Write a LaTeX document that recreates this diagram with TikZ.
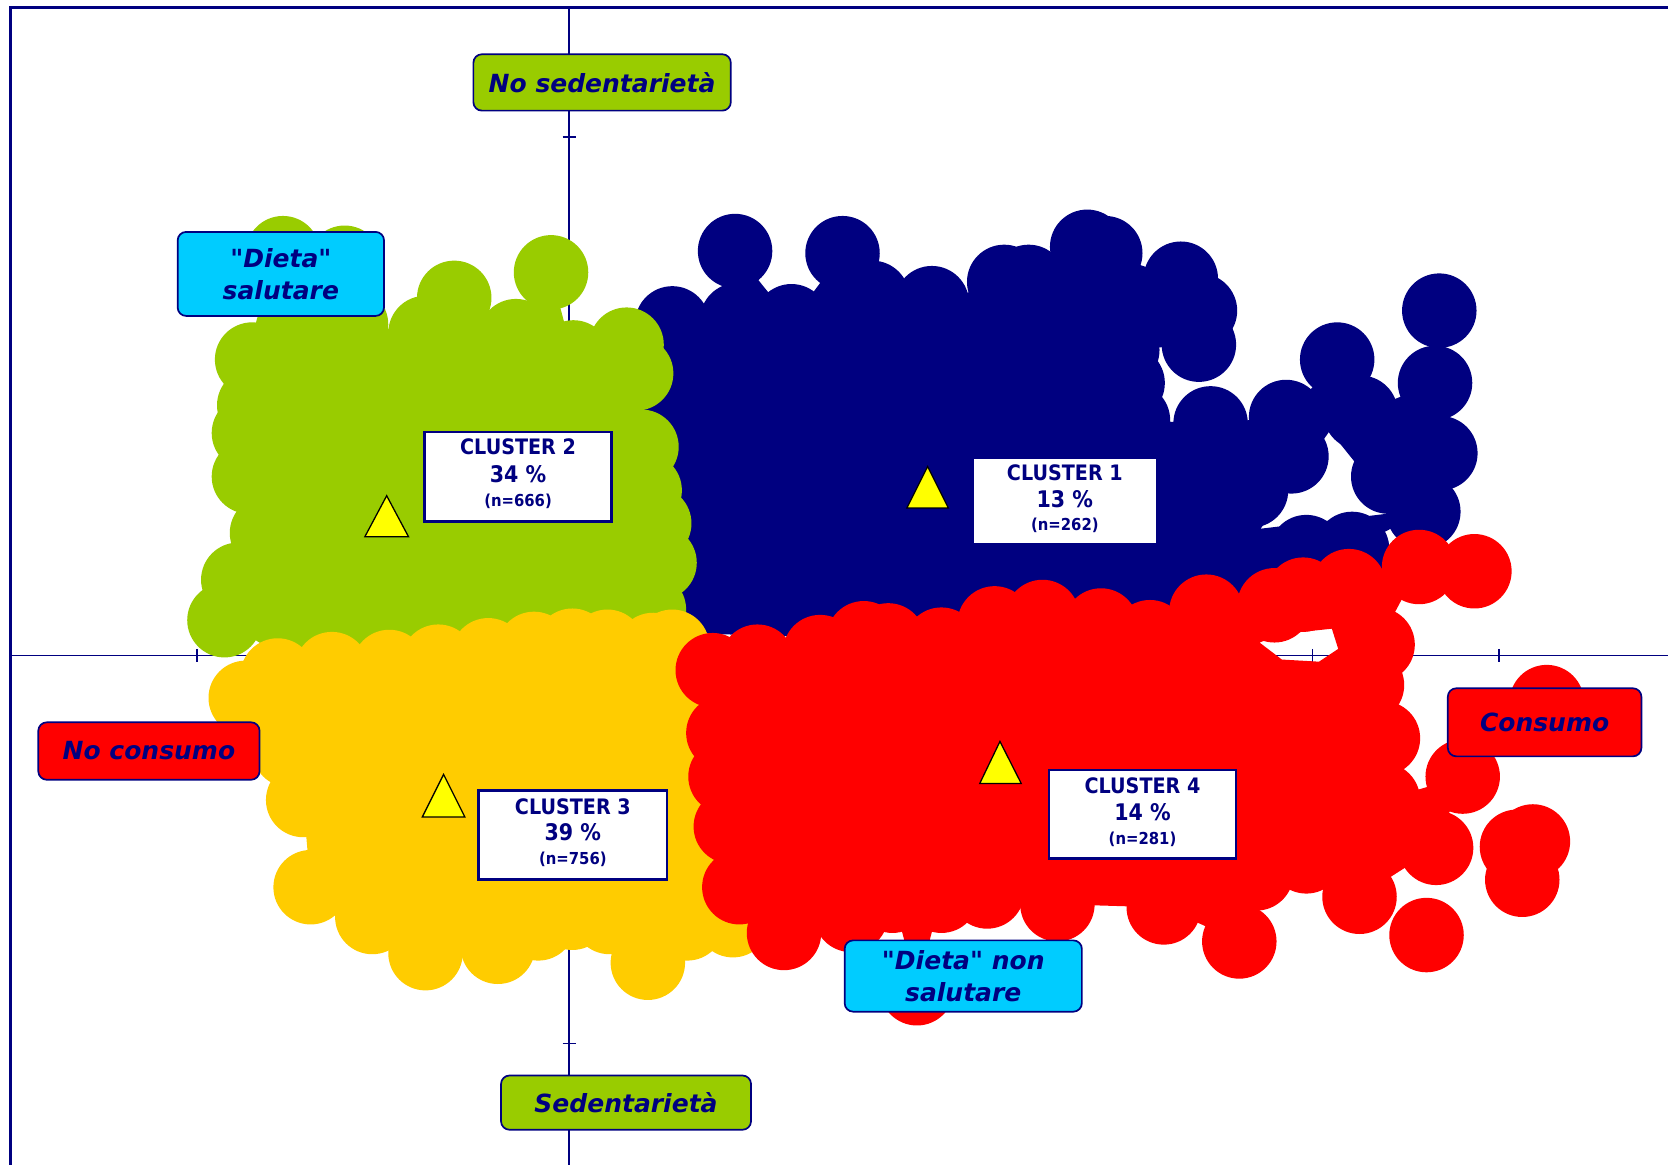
\documentclass[tikz,border=0pt]{standalone}
\usepackage{fontspec}
\setmainfont{DejaVu Sans}[Ligatures=TeXOff]
\newfontfamily\cfont{DejaVu Sans}[FakeStretch=0.9]
\definecolor{navyC}{RGB}{0,0,128}
\definecolor{greenC}{RGB}{153,204,0}
\definecolor{goldC}{RGB}{255,204,0}
\definecolor{redC}{RGB}{255,0,0}
\definecolor{cyanC}{RGB}{0,204,255}
\definecolor{triC}{RGB}{255,255,0}
\tikzset{
  axisline/.style={navyC, line width=1.4pt},
  frameline/.style={navyC, line width=3pt},
  lab/.style={draw=navyC, line width=1.6pt, rounded corners=8pt, text=navyC,
    font=\fontsize{23.5}{30}\selectfont\bfseries\itshape, inner sep=0pt, align=center},
  cbox/.style={draw=navyC, fill=white, line width=2.5pt, inner sep=0pt},
  ctA/.style={text=navyC, font=\cfont\bfseries\fontsize{20}{24}\selectfont, inner sep=0pt, anchor=base},
  ctB/.style={text=navyC, font=\cfont\bfseries\fontsize{21.5}{24}\selectfont, inner sep=0pt, anchor=base},
  ctC/.style={text=navyC, font=\cfont\bfseries\fontsize{15.5}{20}\selectfont, inner sep=0pt, anchor=base},
  tri/.style={draw=black, fill=triC, line width=1.2pt, line join=miter},
}
\begin{document}
\begin{tikzpicture}[x=1pt,y=-1pt]
\useasboundingbox (0,0) rectangle (1568,1095);
\fill[white] (0,0) rectangle (1568,1095);
% frame
\draw[frameline] (10,1095) -- (10,7) -- (1568,7);
% axes
\draw[axisline] (535,7) -- (535,1095);
\draw[axisline] (10,616) -- (1568,616);
\foreach \t in {129,251,373,494,738,859,981} \draw[axisline] (529,\t) -- (541,\t);
\foreach \t in {185,360,710,885,1060,1234,1409} \draw[axisline] (\t,610) -- (\t,622);

% ---------- cluster 1 (navy) ----------
\fill[navyC, even odd rule] (640,595) -- (628,520) -- (625,440) -- (625,370) -- (632,304) -- (693,301) -- (691,236) -- (744,302) -- (792,238) -- (820,280) -- (876,285) -- (944,265) -- (967,265) -- (1022,232) -- (1039,238) -- (1110,262) -- (1128,292) -- (1127,324) -- (1055,329) -- (1060,360) -- (1065,395) -- (1138,398) -- (1209,392) -- (1257,338) -- (1279,388) -- (1349,360) -- (1353,292) -- (1349,360) -- (1354,426) -- (1338,481) -- (1271,516) -- (1228,519) -- (1180,560) -- (1000,590) -- (800,600) -- cycle
  (1250,405) -- (1312,482) -- (1185,497) -- cycle;
\foreach \x/\y in {632/304, 693/301, 691/236, 744/302, 792/238, 820/280, 876/285, 944/265, 967/265, 1022/232, 1039/238, 1110/262, 1128/292, 1127/324, 1055/329, 1060/360, 1065/395, 1138/398, 1209/392, 1257/338, 1279/388, 1349/360, 1353/292, 1354/426, 1338/481, 1271/516, 1228/519, 1214/429, 1305/448, 1330/452, 1176/461, 880/320, 990/300, 950/320, 640/560, 630/480, 628/400}
  \fill[navyC] (\x,\y) circle[radius=35pt];

% ---------- cluster 2 (green) ----------
\fill[greenC] (237,338) -- (275,310) -- (330,305) -- (400,313) -- (427,280) -- (485,316) -- (518,256) -- (539,336) -- (589,324) -- (598,351) -- (603,420) -- (606,461) -- (615,492) -- (620,529) -- (610,573) -- (600,625) -- (300,640) -- (211,583) -- (224,545) -- (251,501) -- (234,448) -- (234,407) -- (239,381) -- cycle;
\foreach \x/\y in {237/338, 275/310, 330/305, 400/313, 427/280, 485/316, 518/256, 539/336, 589/324, 598/351, 603/420, 606/461, 615/492, 620/529, 610/573, 211/583, 224/545, 251/501, 234/448, 234/407, 239/381, 266/238, 324/247}
  \fill[greenC] (\x,\y) circle[radius=35pt];

% ---------- cluster 3 (gold) ----------
\fill[goldC] (231,656) -- (261,635) -- (312,629) -- (366,627) -- (412,622) -- (459,616) -- (502,610) -- (538,607) -- (571,608) -- (614,611) -- (632,608) -- (660,630) -- (672,700) -- (675,800) -- (689,865) -- (646,868) -- (609,905) -- (573,862) -- (538,858) -- (506,868) -- (468,890) -- (400,896) -- (350,862) -- (292,834) -- (285,752) -- (272,705) -- cycle;
\foreach \x/\y in {231/656, 261/635, 312/629, 366/627, 412/622, 459/616, 502/610, 538/607, 571/608, 614/611, 632/608, 660/630, 672/700, 675/800, 689/865, 646/868, 609/905, 573/862, 538/858, 506/868, 468/890, 400/896, 350/862, 292/834, 285/752, 272/705}
  \fill[goldC] (\x,\y) circle[radius=35pt];

% ---------- cluster 4 (red) ----------
\fill[redC, even odd rule] (670,630) -- (712,622) -- (771,613) -- (812,600) -- (835,602) -- (885,606) -- (935,586) -- (980,580) -- (1035,588) -- (1081,599) -- (1134,575) -- (1198,569) -- (1225,559) -- (1268,551) -- (1334,533) -- (1386,537) -- (1334,533) -- (1295,606) -- (1285,644) -- (1300,694) -- (1300,752) -- (1375,730) -- (1350,797) -- (1278,843) -- (1228,805) -- (1181,821) -- (1165,885) -- (1094,853) -- (994,850) -- (928,838) -- (885,842) -- (862,929) -- (839,842) -- (800,860) -- (737,877) -- (695,834) -- (687,777) -- (682,730) -- (680,689) -- cycle
  (1184,604) -- (1205,596) -- (1252,591) -- (1258,610) -- (1240,622) -- (1205,620) -- cycle;
\foreach \x/\y in {670/630, 712/622, 771/613, 812/600, 835/602, 885/606, 935/586, 980/580, 1035/588, 1081/599, 1134/575, 1198/569, 1225/559, 1268/551, 1334/533, 1386/537, 1295/606, 1285/644, 1300/694, 1300/752, 1375/730, 1350/797, 1278/843, 1228/805, 1181/821, 1165/885, 1094/853, 994/850, 928/838, 885/842, 862/929, 839/842, 800/860, 737/877, 695/834, 687/777, 682/730, 680/689, 1454/660, 1426/796, 1441/791, 1431/827, 1341/879}
  \fill[redC] (\x,\y) circle[radius=35pt];

% ---------- axis labels ----------
\node[lab, fill=greenC, minimum width=242pt, minimum height=53pt] (nosed) at (566,77.5) {No sedentarietà};
\node[lab, fill=cyanC, minimum width=194pt, minimum height=79pt] (dietas) at (264,257.5) {"Dieta"\\salutare};
\node[lab, fill=redC, minimum width=208pt, minimum height=54pt] (nocons) at (140,706) {No consumo};
\node[lab, fill=redC, minimum width=182pt, minimum height=64pt] (cons) at (1452,679) {Consumo};
\node[lab, fill=cyanC, minimum width=223pt, minimum height=67pt] (dietan) at (905.5,917.5) {"Dieta" non\\salutare};
\node[lab, fill=greenC, minimum width=235pt, minimum height=51pt] (sed) at (588.5,1036.5) {Sedentarietà};

% ---------- centroids ----------
\draw[tri] (363.5,466) -- (384,504.5) -- (343,504.5) -- cycle;
\draw[tri] (872,438.5) -- (891.5,477.5) -- (852.5,477.5) -- cycle;
\draw[tri] (417,728) -- (437,768) -- (397,768) -- cycle;
\draw[tri] (940,697) -- (960,736.5) -- (921,736.5) -- cycle;

% ---------- cluster boxes ----------
\node[cbox, minimum width=176pt, minimum height=84pt] (c2box) at (487,448) {};
\node[ctA] (c2a) at (487,427.7) {CLUSTER 2};
\node[ctB] (c2b) at (487,453.4) {34 \%};
\node[ctC] (c2c) at (487,475.7) {(n=666)};

\node[cbox, minimum width=174pt, minimum height=81pt] (c1box) at (1001,471) {};
\node[ctA] (c1a) at (1001,451.5) {CLUSTER 1};
\node[ctB] (c1b) at (1001,477) {13 \%};
\node[ctC] (c1c) at (1001,498.5) {(n=262)};

\node[cbox, minimum width=177pt, minimum height=84pt] (c3box) at (538.5,785) {};
\node[ctA] (c3a) at (538.5,765.5) {CLUSTER 3};
\node[ctB] (c3b) at (538.5,790.5) {39 \%};
\node[ctC] (c3c) at (538.5,812.5) {(n=756)};

\node[cbox, minimum width=176pt, minimum height=83pt] (c4box) at (1074,765.3) {};
\node[ctA] (c4a) at (1074,745.7) {CLUSTER 4};
\node[ctB] (c4b) at (1074,771.4) {14 \%};
\node[ctC] (c4c) at (1074,794.3) {(n=281)};
\end{tikzpicture}
\end{document}
